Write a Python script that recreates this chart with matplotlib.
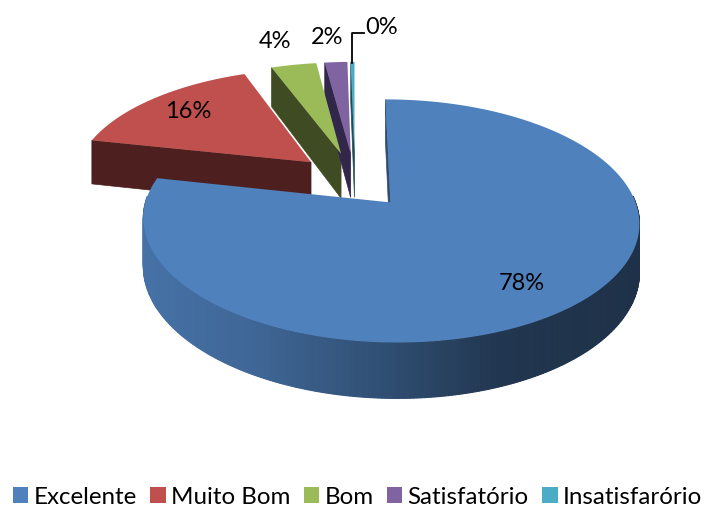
#!/usr/bin/env python3

import matplotlib
matplotlib.use('Agg')
import matplotlib.pyplot as plt
from matplotlib.patches import Patch
import numpy as np

categories = ['Excelente', 'Muito Bom', 'Bom', 'Satisfatório', 'Insatisfarório']
values = [78.3, 15.9, 3.6, 1.8, 0.3]
colors = ['#4F81BD', '#C0504D', '#9BBB59', '#8064A2', '#4BACC6']
wall_colors = ['#2F4D71', '#4E1F1F', '#3F4B22', '#32264A', '#1F4A55']

# label positions in pixels, same order as categories
label_pos = [(522, 283), (188, 112), (275, 42), (327, 38), (382, 28)]

# fake 3d projection fitted to the picture
cx, cy = 352, 180
A, B, K = 238, 112, 0.148
DEPTH = 46
EXPLODE = 0.25
BACK_SHIFT = 3  # back slices sit a bit more to the right


def project(x, y, z=0):
    s = 1 + K * y
    return cx + A * x / s, cy - (B * y - DEPTH * z) / s


plt.rcParams['font.family'] = ['Lato', 'DejaVu Sans']
fig = plt.figure(figsize=(7.06, 5.07), dpi=100)
ax = fig.add_axes([0, 0, 1, 1])
ax.set_xlim(0, 706)
ax.set_ylim(507, 0)
ax.axis('off')

shares = np.array(values) / sum(values) * 2 * np.pi
ends = np.cumsum(shares)
starts = ends - shares


def slice_outline(i, z=0):
    mid = (starts[i] + ends[i]) / 2
    ox, oy = EXPLODE * np.sin(mid), EXPLODE * np.cos(mid)
    t = np.linspace(starts[i], ends[i], 400 if i == 0 else 120)
    xs = np.r_[ox, ox + np.sin(t)]
    ys = np.r_[oy, oy + np.cos(t)]
    px, py = project(xs, ys, z)
    if i > 0:
        px = px + BACK_SHIFT
    return px, py


def shade(col, f):
    rgb = np.array(matplotlib.colors.to_rgb(col))
    return tuple(rgb * f)


# back slices first so the big one ends up on top
for i in [1, 2, 3, 4, 0]:
    sx, sy = slice_outline(i)
    bx, by = slice_outline(i, 1)
    z = 5 if i == 0 else 2
    # radial face at the start angle
    ax.fill([sx[0], sx[1], bx[1], bx[0]], [sy[0], sy[1], by[1], by[0]],
            color=wall_colors[i], lw=0.5, zorder=z)
    if i == 0:
        # round outer wall, dark towards the right
        t = np.linspace(starts[i], ends[i], len(sx) - 1)
        for j in range(1, len(sx) - 1):
            if np.cos((t[j - 1] + t[j]) / 2) > 0.05:
                continue
            f = np.interp(sx[j], [145, 250, 390, 500, 640], [0.88, 0.80, 0.60, 0.42, 0.38])
            ax.fill([sx[j], sx[j + 1], bx[j + 1], bx[j]],
                    [sy[j], sy[j + 1], by[j + 1], by[j]],
                    color=shade(colors[0], f), lw=0.8, zorder=z)
    ax.fill(sx, sy, color=colors[i], lw=0, zorder=z + 1)

for i, (px, py) in enumerate(label_pos):
    ax.text(px, py, f'{values[i]:.0f}%', fontsize=17, color='black',
            ha='center', va='center', zorder=8)

# leader line of the last label
ax.plot([352, 352, 364], [63, 33, 33], color='black', lw=1.3, zorder=8)

handles = [Patch(facecolor=c, edgecolor='none') for c in colors]
ax.legend(handles, categories, loc='center', bbox_to_anchor=(0.5064, 0.0195),
          ncol=5, frameon=False, fontsize=17.4, handlelength=0.64, handleheight=0.64,
          handletextpad=0.22, columnspacing=0.55, borderpad=0, borderaxespad=0)

plt.savefig('out.png', dpi=100)
